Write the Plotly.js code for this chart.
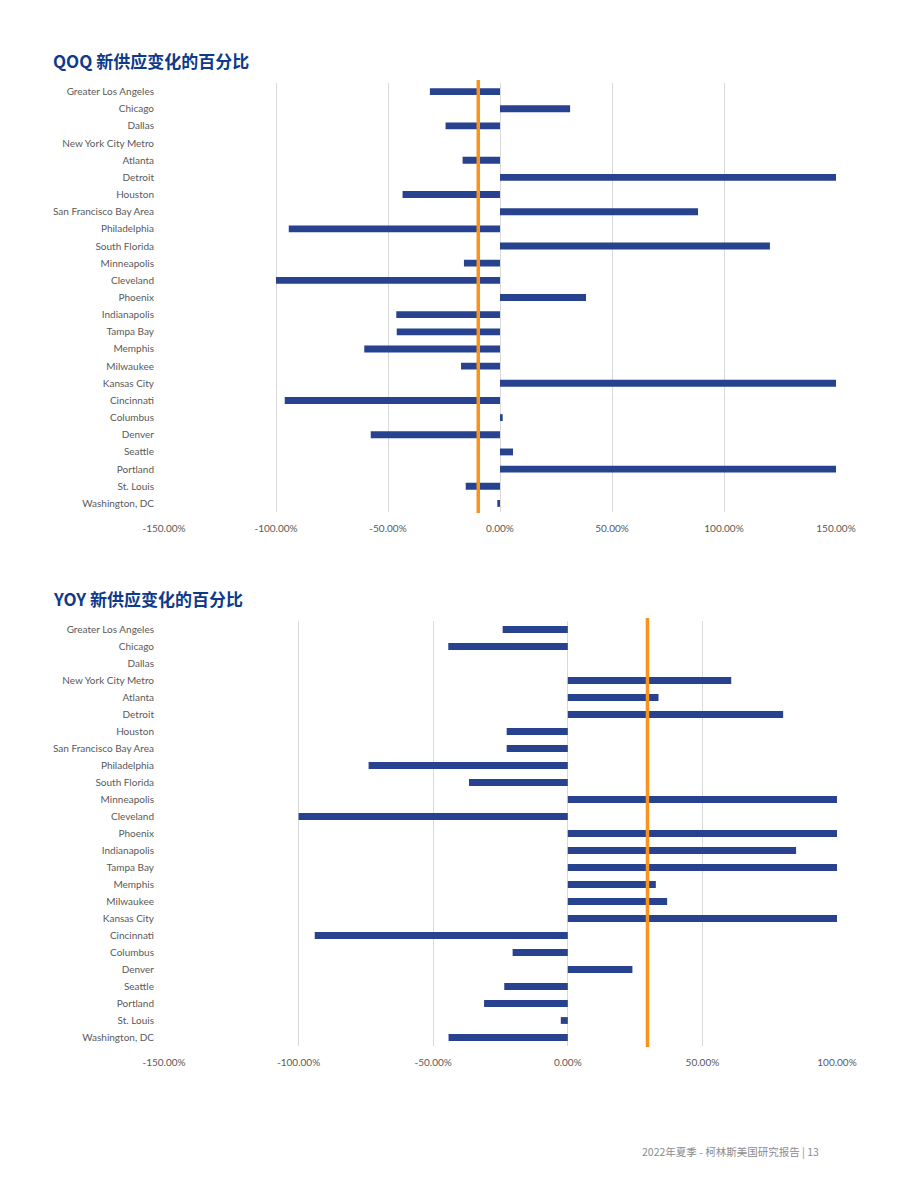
<!DOCTYPE html>
<html>
<head>
<meta charset="utf-8">
<script src="https://cdn.plot.ly/plotly-3.0.1.min.js"></script>
<style>
html,body{margin:0;padding:0;background:#fff;}
#chart{width:920px;height:1191px;}
</style>
</head>
<body>
<div id="chart"></div>
<script>
const cities = ["Greater Los Angeles","Chicago","Dallas","New York City Metro","Atlanta","Detroit","Houston","San Francisco Bay Area","Philadelphia","South Florida","Minneapolis","Cleveland","Phoenix","Indianapolis","Tampa Bay","Memphis","Milwaukee","Kansas City","Cincinnati","Columbus","Denver","Seattle","Portland","St. Louis","Washington, DC"];
const qoqValues = [-31.3, 31.3, -24.3, 0, -16.7, 150, -43.5, 88.4, -94.3, 120.5, -16.1, -100, 38.4, -46.3, -46.1, -60.6, -17.4, 150, -96.1, 1.2, -57.7, 5.8, 150, -15.3, -1.2];
const yoyValues = [-24.2, -44.4, 0, 60.7, 33.7, 80, -22.7, -22.7, -74, -36.7, 100, -100, 100, 84.8, 100, 32.7, 36.9, 100, -94, -20.5, 24, -23.6, -31.1, -2.6, -44.3];
const qoqAverage = -9.7;
const yoyAverage = 29.6;
const qoqTickVals = [-150, -100, -50, 0, 50, 100, 150];
const qoqTickText = ["-150.00%", "-100.00%", "-50.00%", "0.00%", "50.00%", "100.00%", "150.00%"];
const yoyTickVals = [-150, -100, -50, 0, 50, 100];
const yoyTickText = ["-150.00%", "-100.00%", "-50.00%", "0.00%", "50.00%", "100.00%"];
const titleQoq = "QOQ 新供应变化的百分比";
const titleYoy = "YOY 新供应变化的百分比";
const footer = "2022年夏季 - 柯林斯美国研究报告 | 13";

const W = 920, H = 1191;
const barColor = "#27428f";
const orange = "#f7931e";
const grid = "#d9d9d9";
const labelFont = {family: "Lato, 'Liberation Sans', sans-serif", size: 10, color: "#595959"};

const bar = (vals, xa, ya) => ({
  type: "bar", orientation: "h", y: cities, x: vals,
  xaxis: xa, yaxis: ya, width: 0.4,
  marker: {color: barColor, line: {width: 0}},
  hoverinfo: "x+y", showlegend: false
});

const data = [bar(qoqValues, "x", "y"), bar(yoyValues, "x2", "y2")];

const py = v => 1 - v / H;

const xaxisBase = {
  showgrid: true, gridcolor: grid, gridwidth: 1, zeroline: true, zerolinecolor: grid, zerolinewidth: 1,
  showline: false, ticks: "", tickfont: labelFont, fixedrange: true, tickmode: "array", ticklabelstandoff: 9
};
const yaxisBase = {
  showgrid: false, zeroline: false, showline: false, ticks: "", autorange: "reversed",
  tickfont: labelFont, ticklabelstandoff: 9, fixedrange: true, type: "category"
};

const layout = {
  width: W, height: H,
  margin: {l: 0, r: 0, t: 0, b: 0},
  paper_bgcolor: "#fff", plot_bgcolor: "#fff",
  xaxis: Object.assign({}, xaxisBase, {domain: [164 / W, 836 / W], range: [-150, 150], tickvals: qoqTickVals, ticktext: qoqTickText, anchor: "y"}),
  yaxis: Object.assign({}, yaxisBase, {domain: [py(512), py(83)], anchor: "x"}),
  xaxis2: Object.assign({}, xaxisBase, {domain: [164 / W, 837 / W], range: [-150, 100], tickvals: yoyTickVals, ticktext: yoyTickText, anchor: "y2"}),
  yaxis2: Object.assign({}, yaxisBase, {domain: [py(1046), py(621)], anchor: "x2"}),
  shapes: [
    {type: "line", xref: "x", yref: "paper", x0: qoqAverage, x1: qoqAverage, y0: py(513), y1: py(80), line: {color: orange, width: 3.5}},
    {type: "line", xref: "x2", yref: "paper", x0: yoyAverage, x1: yoyAverage, y0: py(1047), y1: py(618), line: {color: orange, width: 3.5}}
  ],
  annotations: [
    {text: "<b>" + titleQoq + "</b>", xref: "paper", yref: "paper", x: 51 / W, y: py(46), xanchor: "left", yanchor: "top", showarrow: false,
      font: {family: "'Noto Sans CJK SC', 'Noto Sans', sans-serif", size: 17, color: "#0d3a8a"}},
    {text: "<b>" + titleYoy + "</b>", xref: "paper", yref: "paper", x: 51 / W, y: py(584), xanchor: "left", yanchor: "top", showarrow: false,
      font: {family: "'Noto Sans CJK SC', 'Noto Sans', sans-serif", size: 17, color: "#0d3a8a"}},
    {text: footer, xref: "paper", yref: "paper", x: 821 / W, y: py(1151), xanchor: "right", yanchor: "middle", showarrow: false,
      font: {family: "'Noto Sans CJK SC', sans-serif", size: 10.5, color: "#8c8c8c"}}
  ]
};

Plotly.newPlot("chart", data, layout, {displayModeBar: false, staticPlot: true});
</script>
</body>
</html>
